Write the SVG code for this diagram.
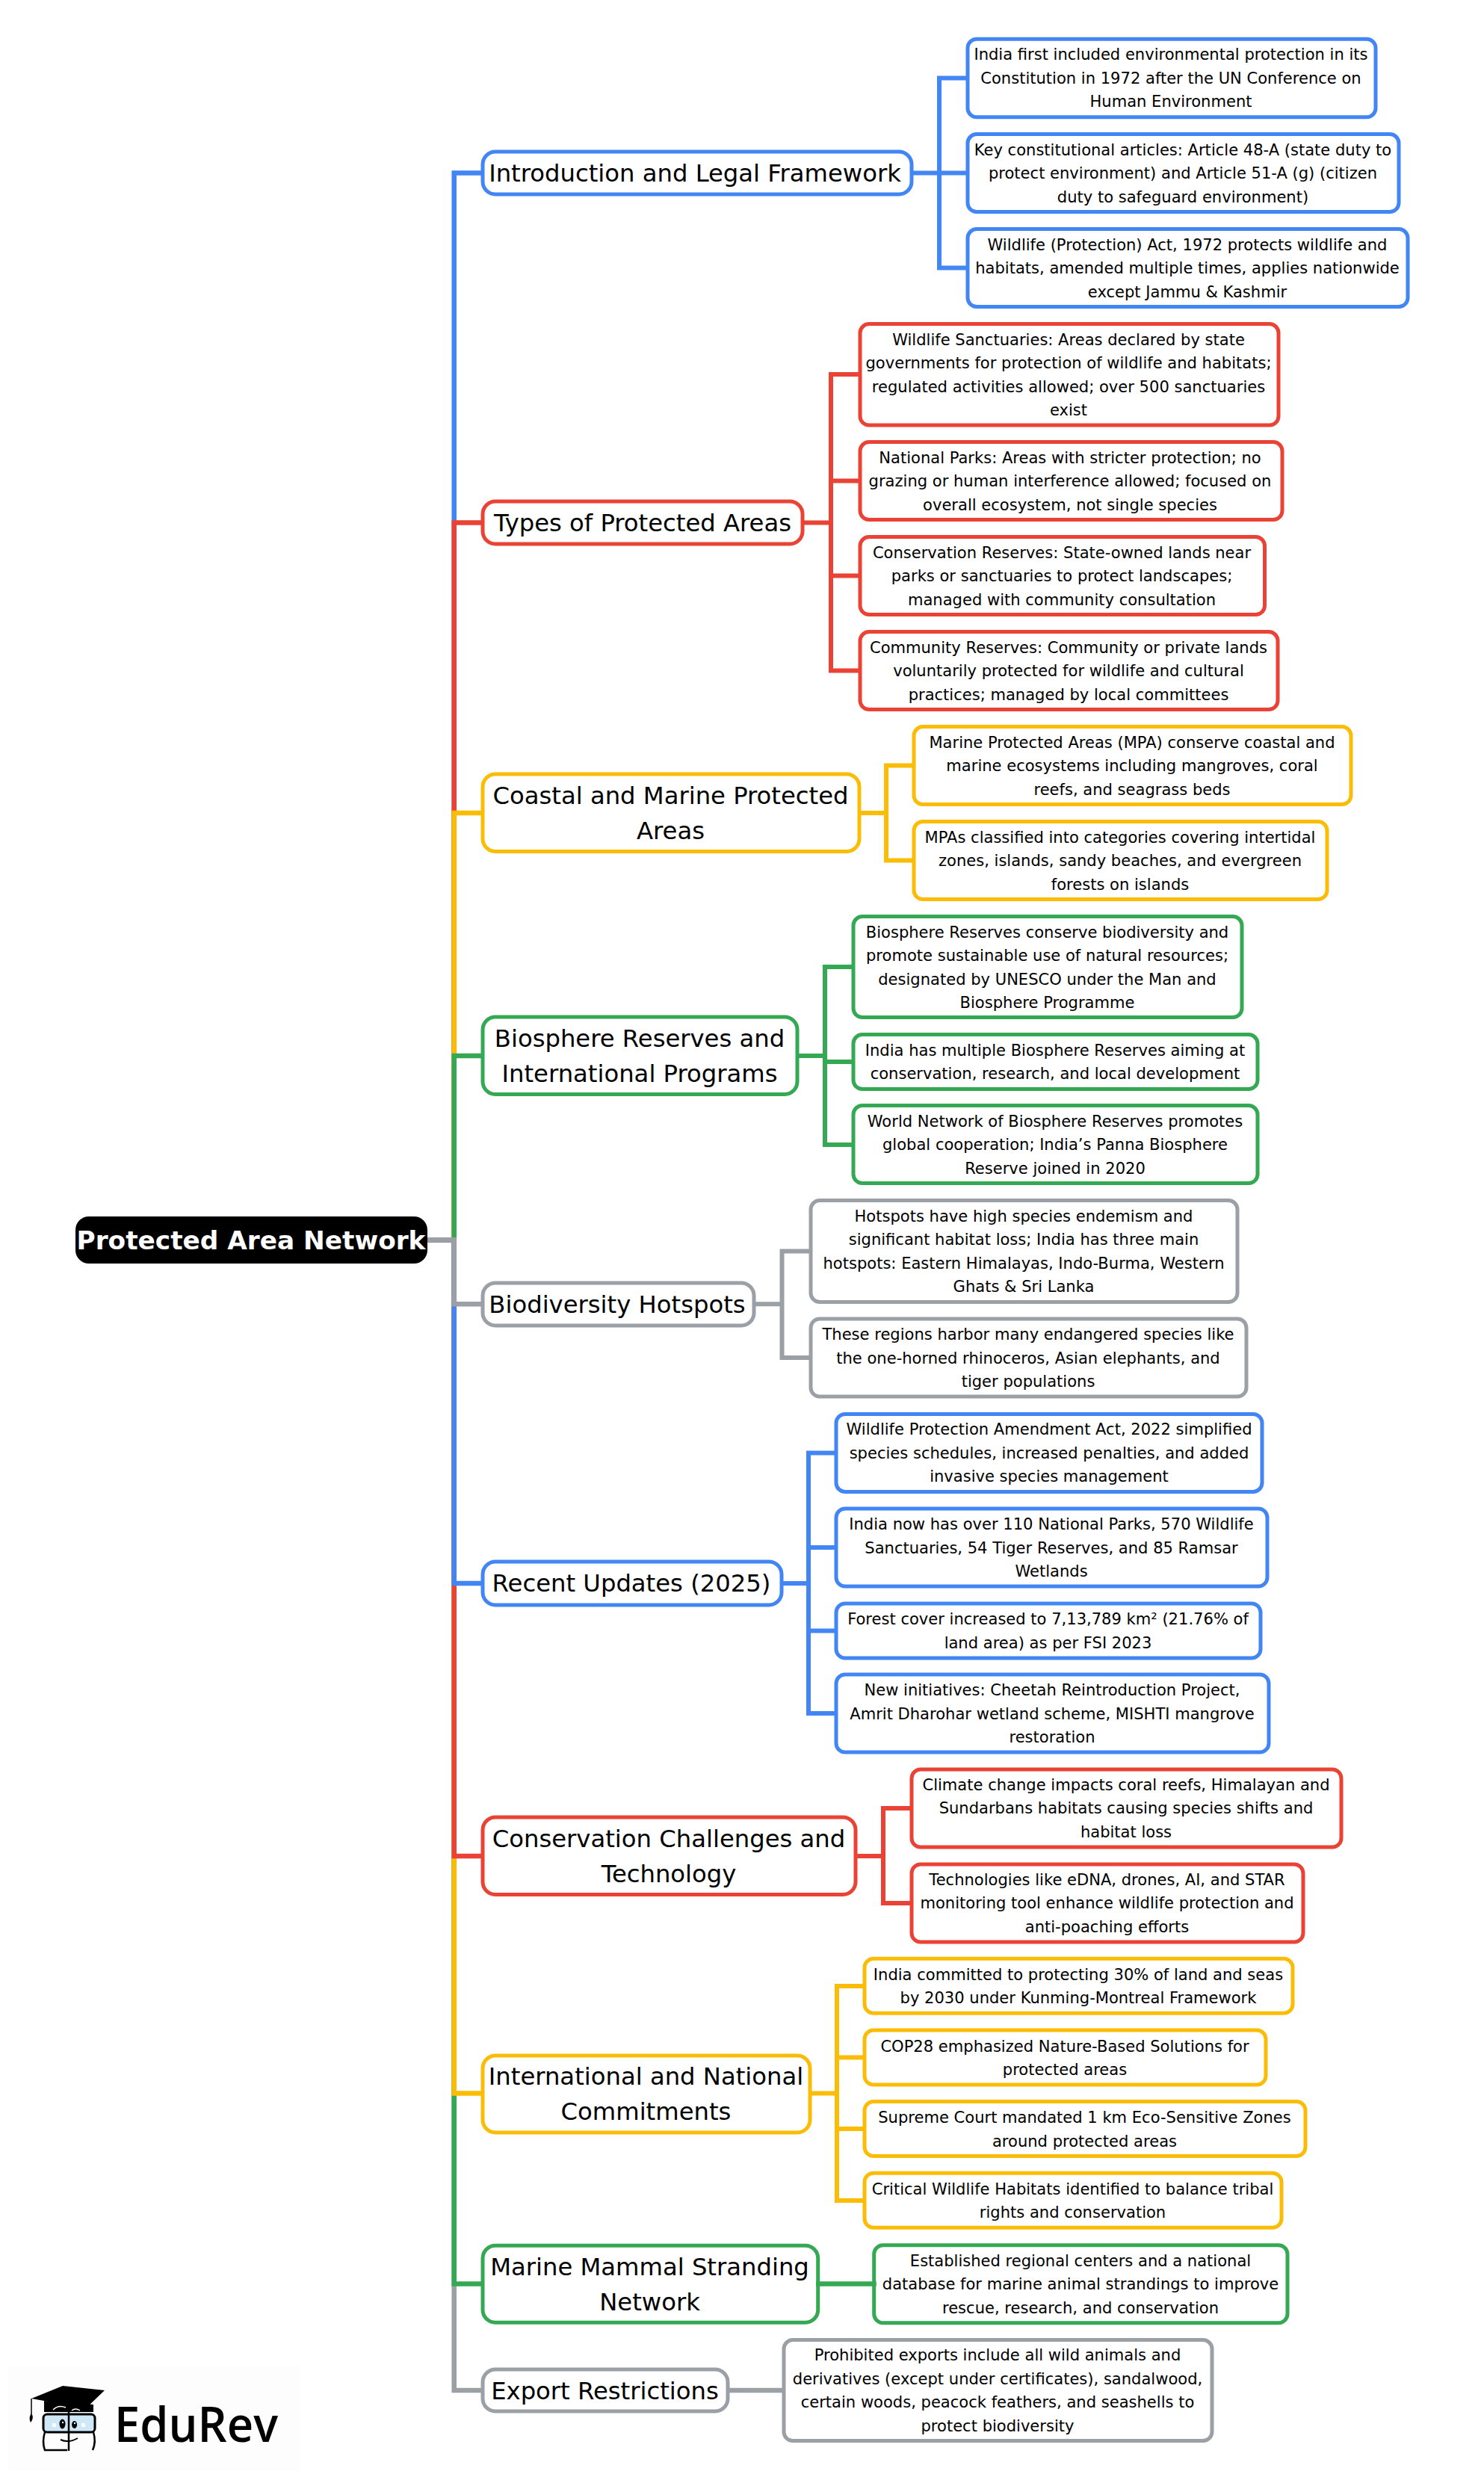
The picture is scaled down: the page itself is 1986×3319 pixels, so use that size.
<svg xmlns="http://www.w3.org/2000/svg" width="1986" height="3319" viewBox="0 0 1986 3319">
<style>
text{font-family:"DejaVu Sans","Liberation Sans",sans-serif;fill:#000;text-anchor:middle}
.c{fill:none;stroke-width:6}
.s{fill:none;stroke-width:6.5}
.n{fill:#fff;stroke-width:5}
.top{font-size:32.25px}
.leaf{font-size:21.05px}
.b{stroke:#4285F4}.r{stroke:#EA4335}.y{stroke:#FBBC05}.g{stroke:#34A853}.a{stroke:#9AA0A6}
</style>
<rect width="1986" height="3319" fill="#fff"/>
<g id="root"><rect x="101" y="1628" width="471" height="63" rx="18" fill="#000"/><text x="336" y="1671.5" font-size="34.3" font-weight="700" style="fill:#fff">Protected Area Network</text></g>

<g id="intro"><rect class="n b" x="646" y="203" width="574" height="57" rx="17"/><text class="top" x="930" y="242.8">Introduction and Legal Framework</text></g>
<g id="intro-1"><rect class="n b" x="1295" y="52.3" width="546" height="104.5" rx="12"/><text class="leaf" x="1567" y="80.2">India first included environmental protection in its<tspan x="1567" dy="31.5">Constitution in 1972 after the UN Conference on</tspan><tspan x="1567" dy="31.5">Human Environment</tspan></text></g>
<g id="intro-2"><rect class="n b" x="1295" y="179.6" width="577" height="104" rx="12"/><text class="leaf" x="1583" y="207.5">Key constitutional articles: Article 48-A (state duty to<tspan x="1583" dy="31.5">protect environment) and Article 51-A (g) (citizen</tspan><tspan x="1583" dy="31.5">duty to safeguard environment)</tspan></text></g>
<g id="intro-3"><rect class="n b" x="1295" y="306.6" width="589" height="104" rx="12"/><text class="leaf" x="1589" y="334.5">Wildlife (Protection) Act, 1972 protects wildlife and<tspan x="1589" dy="31.5">habitats, amended multiple times, applies nationwide</tspan><tspan x="1589" dy="31.5">except Jammu &amp; Kashmir</tspan></text></g>

<g id="types"><rect class="n r" x="646" y="671" width="428" height="57" rx="17"/><text class="top" x="860" y="710.8">Types of Protected Areas</text></g>
<g id="types-1"><rect class="n r" x="1151" y="433.6" width="560" height="135.5" rx="12"/><text class="leaf" x="1430" y="461.7">Wildlife Sanctuaries: Areas declared by state<tspan x="1430" dy="31.5">governments for protection of wildlife and habitats;</tspan><tspan x="1430" dy="31.5">regulated activities allowed; over 500 sanctuaries</tspan><tspan x="1430" dy="31.5">exist</tspan></text></g>
<g id="types-2"><rect class="n r" x="1151" y="591.6" width="565" height="104" rx="12"/><text class="leaf" x="1432" y="619.5">National Parks: Areas with stricter protection; no<tspan x="1432" dy="31.5">grazing or human interference allowed; focused on</tspan><tspan x="1432" dy="31.5">overall ecosystem, not single species</tspan></text></g>
<g id="types-3"><rect class="n r" x="1151" y="718.6" width="541.5" height="104" rx="12"/><text class="leaf" x="1421" y="746.5">Conservation Reserves: State-owned lands near<tspan x="1421" dy="31.5">parks or sanctuaries to protect landscapes;</tspan><tspan x="1421" dy="31.5">managed with community consultation</tspan></text></g>
<g id="types-4"><rect class="n r" x="1151" y="845.6" width="559" height="104" rx="12"/><text class="leaf" x="1430" y="873.5">Community Reserves: Community or private lands<tspan x="1430" dy="31.5">voluntarily protected for wildlife and cultural</tspan><tspan x="1430" dy="31.5">practices; managed by local committees</tspan></text></g>

<g id="coastal"><rect class="n y" x="646" y="1036" width="504" height="103.5" rx="17"/><text class="top" x="897.5" y="1075.8">Coastal and Marine Protected<tspan x="897.5" dy="47">Areas</tspan></text></g>
<g id="coastal-1"><rect class="n y" x="1223" y="972.6" width="585" height="104" rx="12"/><text class="leaf" x="1515" y="1000.5">Marine Protected Areas (MPA) conserve coastal and<tspan x="1515" dy="31.5">marine ecosystems including mangroves, coral</tspan><tspan x="1515" dy="31.5">reefs, and seagrass beds</tspan></text></g>
<g id="coastal-2"><rect class="n y" x="1223" y="1099.6" width="553" height="104" rx="12"/><text class="leaf" x="1499" y="1127.5">MPAs classified into categories covering intertidal<tspan x="1499" dy="31.5">zones, islands, sandy beaches, and evergreen</tspan><tspan x="1499" dy="31.5">forests on islands</tspan></text></g>

<g id="biosphere"><rect class="n g" x="646" y="1361" width="421" height="103.5" rx="17"/><text class="top" x="856" y="1400.8">Biosphere Reserves and<tspan x="856" dy="47">International Programs</tspan></text></g>
<g id="biosphere-1"><rect class="n g" x="1142" y="1226.6" width="520" height="135" rx="12"/><text class="leaf" x="1401.5" y="1254.6">Biosphere Reserves conserve biodiversity and<tspan x="1401.5" dy="31.5">promote sustainable use of natural resources;</tspan><tspan x="1401.5" dy="31.5">designated by UNESCO under the Man and</tspan><tspan x="1401.5" dy="31.5">Biosphere Programme</tspan></text></g>
<g id="biosphere-2"><rect class="n g" x="1142" y="1384.6" width="541" height="73" rx="12"/><text class="leaf" x="1412" y="1412.7">India has multiple Biosphere Reserves aiming at<tspan x="1412" dy="31.5">conservation, research, and local development</tspan></text></g>
<g id="biosphere-3"><rect class="n g" x="1142" y="1479.6" width="541" height="104" rx="12"/><text class="leaf" x="1412" y="1507.7">World Network of Biosphere Reserves promotes<tspan x="1412" dy="31.5">global cooperation; India’s Panna Biosphere</tspan><tspan x="1412" dy="31.5">Reserve joined in 2020</tspan></text></g>

<g id="hotspots"><rect class="n a" x="646" y="1717" width="363" height="57" rx="17"/><text class="top" x="826" y="1757">Biodiversity Hotspots</text></g>
<g id="hotspots-1"><rect class="n a" x="1085" y="1606.6" width="571" height="136" rx="12"/><text class="leaf" x="1370" y="1634.7">Hotspots have high species endemism and<tspan x="1370" dy="31.5">significant habitat loss; India has three main</tspan><tspan x="1370" dy="31.5">hotspots: Eastern Himalayas, Indo-Burma, Western</tspan><tspan x="1370" dy="31.5">Ghats &amp; Sri Lanka</tspan></text></g>
<g id="hotspots-2"><rect class="n a" x="1085" y="1765" width="583" height="104" rx="12"/><text class="leaf" x="1376" y="1793">These regions harbor many endangered species like<tspan x="1376" dy="31.5">the one-horned rhinoceros, Asian elephants, and</tspan><tspan x="1376" dy="31.5">tiger populations</tspan></text></g>

<g id="recent"><rect class="n b" x="646" y="2090" width="400" height="58" rx="17"/><text class="top" x="845" y="2130.3">Recent Updates (2025)</text></g>
<g id="recent-1"><rect class="n b" x="1119" y="1892.4" width="570" height="104" rx="12"/><text class="leaf" x="1404" y="1920">Wildlife Protection Amendment Act, 2022 simplified<tspan x="1404" dy="31.5">species schedules, increased penalties, and added</tspan><tspan x="1404" dy="31.5">invasive species management</tspan></text></g>
<g id="recent-2"><rect class="n b" x="1119" y="2019" width="577" height="104" rx="12"/><text class="leaf" x="1407" y="2047">India now has over 110 National Parks, 570 Wildlife<tspan x="1407" dy="31.5">Sanctuaries, 54 Tiger Reserves, and 85 Ramsar</tspan><tspan x="1407" dy="31.5">Wetlands</tspan></text></g>
<g id="recent-3"><rect class="n b" x="1119" y="2146" width="568" height="73" rx="12"/><text class="leaf" x="1402.5" y="2174">Forest cover increased to 7,13,789 km² (21.76% of<tspan x="1402.5" dy="31.5">land area) as per FSI 2023</tspan></text></g>
<g id="recent-4"><rect class="n b" x="1119" y="2241" width="579" height="104" rx="12"/><text class="leaf" x="1408" y="2269">New initiatives: Cheetah Reintroduction Project,<tspan x="1408" dy="31.5">Amrit Dharohar wetland scheme, MISHTI mangrove</tspan><tspan x="1408" dy="31.5">restoration</tspan></text></g>

<g id="conservation"><rect class="n r" x="646" y="2432" width="499" height="103.5" rx="17"/><text class="top" x="895" y="2471.8">Conservation Challenges and<tspan x="895" dy="47">Technology</tspan></text></g>
<g id="conservation-1"><rect class="n r" x="1220" y="2368" width="575" height="104" rx="12"/><text class="leaf" x="1507" y="2395.5">Climate change impacts coral reefs, Himalayan and<tspan x="1507" dy="31.5">Sundarbans habitats causing species shifts and</tspan><tspan x="1507" dy="31.5">habitat loss</tspan></text></g>
<g id="conservation-2"><rect class="n r" x="1220" y="2495" width="524" height="104" rx="12"/><text class="leaf" x="1481.5" y="2522.5">Technologies like eDNA, drones, AI, and STAR<tspan x="1481.5" dy="31.5">monitoring tool enhance wildlife protection and</tspan><tspan x="1481.5" dy="31.5">anti-poaching efforts</tspan></text></g>

<g id="international"><rect class="n y" x="646" y="2751" width="438" height="103" rx="17"/><text class="top" x="864.5" y="2790">International and National<tspan x="864.5" dy="47">Commitments</tspan></text></g>
<g id="international-1"><rect class="n y" x="1157" y="2621.3" width="573" height="73" rx="12"/><text class="leaf" x="1443" y="2649.7">India committed to protecting 30% of land and seas<tspan x="1443" dy="31.5">by 2030 under Kunming-Montreal Framework</tspan></text></g>
<g id="international-2"><rect class="n y" x="1157" y="2717" width="537" height="73" rx="12"/><text class="leaf" x="1425" y="2745.7">COP28 emphasized Nature-Based Solutions for<tspan x="1425" dy="31.5">protected areas</tspan></text></g>
<g id="international-3"><rect class="n y" x="1157" y="2812.5" width="590" height="73" rx="12"/><text class="leaf" x="1451.5" y="2841.2">Supreme Court mandated 1 km Eco-Sensitive Zones<tspan x="1451.5" dy="31.5">around protected areas</tspan></text></g>
<g id="international-4"><rect class="n y" x="1157" y="2908.3" width="558" height="73" rx="12"/><text class="leaf" x="1435.5" y="2936.7">Critical Wildlife Habitats identified to balance tribal<tspan x="1435.5" dy="31.5">rights and conservation</tspan></text></g>

<g id="marine"><rect class="n g" x="646" y="3005.3" width="448.7" height="103" rx="17"/><text class="top" x="869.5" y="3045">Marine Mammal Stranding<tspan x="869.5" dy="47">Network</tspan></text></g>
<g id="marine-1"><rect class="n g" x="1169.7" y="3004.7" width="553.3" height="104" rx="12"/><text class="leaf" x="1446" y="3032.5">Established regional centers and a national<tspan x="1446" dy="31.5">database for marine animal strandings to improve</tspan><tspan x="1446" dy="31.5">rescue, research, and conservation</tspan></text></g>

<g id="export"><rect class="n a" x="646" y="3171" width="328" height="56" rx="17"/><text class="top" x="809.5" y="3210.5">Export Restrictions</text></g>
<g id="export-1"><rect class="n a" x="1049" y="3131.6" width="573" height="135" rx="12"/><text class="leaf" x="1335" y="3159.2">Prohibited exports include all wild animals and<tspan x="1335" dy="31.5">derivatives (except under certificates), sandalwood,</tspan><tspan x="1335" dy="31.5">certain woods, peacock feathers, and seashells to</tspan><tspan x="1335" dy="31.5">protect biodiversity</tspan></text></g>

<g id="connectors">
<path class="s b" d="M572 1659.3H607.7V231.5H648"/>
<path class="s r" d="M572 1659.3H607.7V699.5H648"/>
<path class="s y" d="M572 1659.3H607.7V1088H648"/>
<path class="s g" d="M572 1659.3H607.7V1413H648"/>
<path class="s a" d="M572 1659.3H607.7V3199H648"/>
<path class="s g" d="M572 1659.3H607.7V3056.5H648"/>
<path class="s y" d="M572 1659.3H607.7V2801.5H648"/>
<path class="s r" d="M572 1659.3H607.7V2484H648"/>
<path class="s b" d="M572 1659.3H607.7V2119H648"/>
<path class="s a" d="M572 1659.3H607.7V1745.3H648"/>
<path class="c b" d="M1218 231.5H1257V104.5H1297M1218 231.5H1297M1218 231.5H1257V358.5H1297"/>
<path class="c r" d="M1072 699.5H1112V501H1153M1072 699.5H1112V643.5H1153M1072 699.5H1112V770.5H1153M1072 699.5H1112V897.5H1153"/>
<path class="c y" d="M1148 1088H1186V1024.5H1225M1148 1088H1186V1151.5H1225"/>
<path class="c g" d="M1065 1413H1104V1294H1144M1065 1413H1104V1421H1144M1065 1413H1104V1532H1144"/>
<path class="c a" d="M1007 1745.3H1046.5V1674.5H1087M1007 1745.3H1046.5V1817H1087"/>
<path class="c b" d="M1044 2119H1082V1944.5H1121M1044 2119H1082V2071H1121M1044 2119H1082V2182.5H1121M1044 2119H1082V2293H1121"/>
<path class="c r" d="M1143 2484H1182V2420H1222M1143 2484H1182V2547H1222"/>
<path class="c y" d="M1082 2801.5H1120V2658H1159M1082 2801.5H1120V2753.5H1159M1082 2801.5H1120V2849H1159M1082 2801.5H1120V2945H1159"/>
<path class="s g" d="M1092 3056.4H1172.7"/>
<path class="s a" d="M972 3199H1051"/>
</g>

<g id="logo">
<rect x="11" y="3167" width="391" height="140" fill="#fdfdfd"/>
<path d="M59 3213V3228H125V3218Z" fill="#000"/>
<path d="M42 3210L84 3193L140 3199L115 3223L59 3213Z" fill="#000"/>
<path d="M42 3210V3231" stroke="#000" stroke-width="1.5" fill="none"/>
<path d="M42 3230C39 3234 39 3238 41 3242C44 3238 45 3234 42 3230Z" fill="#000"/>
<path d="M71 3225Q78 3218 88 3222M96 3226Q101 3222 107 3226" stroke="#fff" stroke-width="1.5" fill="none"/>
<rect x="58" y="3231" width="69" height="24" rx="5" fill="#cfe8f8" stroke="#000" stroke-width="3"/>
<path d="M60 3255Q56 3268 60 3279H90M125 3255Q129 3268 124 3279" fill="none" stroke="#000" stroke-width="2.5"/>
<path d="M92 3228V3280" stroke="#000" stroke-width="2.5"/>
<ellipse cx="83.5" cy="3244" rx="4" ry="6.5" fill="#000"/><ellipse cx="99.6" cy="3245" rx="3.5" ry="5" fill="#000"/>
<circle cx="84" cy="3242" r="1.2" fill="#fff"/><circle cx="100" cy="3243" r="1.2" fill="#fff"/>
<path d="M70 3243h5v5h-5zM109 3243h5v5h-5z" fill="#fff"/>
<path d="M81 3265Q92 3270 104 3263" stroke="#000" stroke-width="2" fill="none"/>
<text x="153" y="3268" font-size="66" font-weight="600" textLength="219" lengthAdjust="spacingAndGlyphs" style="font-family:'Open Sans','Noto Sans',sans-serif;text-anchor:start">EduRev</text>
</g>
</svg>
